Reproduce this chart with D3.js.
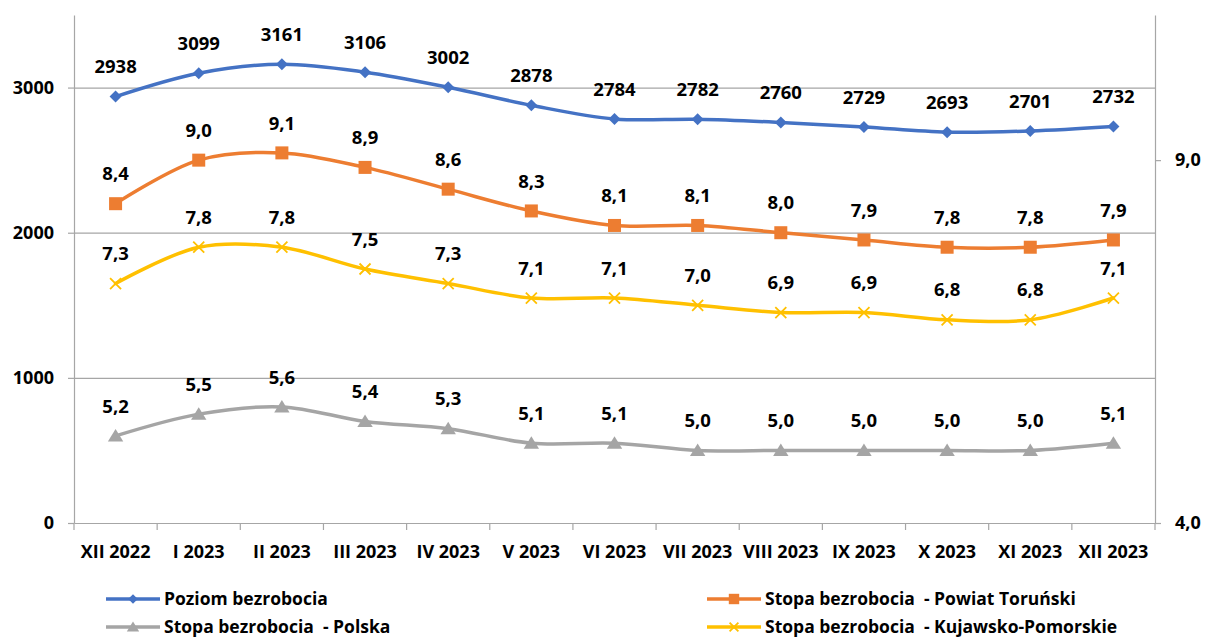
<!DOCTYPE html>
<html>
<head>
<meta charset="utf-8">
<script src="https://cdn.jsdelivr.net/npm/d3@7"></script>
<style>
  html, body { margin: 0; padding: 0; background: #fff; }
  svg { display: block; font-family: "Open Sans", sans-serif; font-weight: bold; }
  text { white-space: pre; }
</style>
</head>
<body>
<svg id="chart" width="1206" height="637"></svg>
<script>
// Months on the category axis
const categories = ["XII 2022", "I 2023", "II 2023", "III 2023", "IV 2023", "V 2023", "VI 2023",
  "VII 2023", "VIII 2023", "IX 2023", "X 2023", "XI 2023", "XII 2023"];

// Number of unemployed (left axis)
const poziomBezrobocia = [2938, 3099, 3161, 3106, 3002, 2878, 2784, 2782, 2760, 2729, 2693, 2701, 2732];

// Unemployment rates, % (right axis)
const stopaTorunski = [8.4, 9.0, 9.1, 8.9, 8.6, 8.3, 8.1, 8.1, 8.0, 7.9, 7.8, 7.8, 7.9];
const stopaKujawskoPomorskie = [7.3, 7.8, 7.8, 7.5, 7.3, 7.1, 7.1, 7.0, 6.9, 6.9, 6.8, 6.8, 7.1];
const stopaPolska = [5.2, 5.5, 5.6, 5.4, 5.3, 5.1, 5.1, 5.0, 5.0, 5.0, 5.0, 5.0, 5.1];

// Axis ticks
const leftTicks = [0, 1000, 2000, 3000];
const rightTicks = [4, 9];

const svg = d3.select("#chart");
const plotLeft = 74, plotRight = 1155, plotTop = 15, plotBottom = 523;

const x = d3.scaleBand().domain(categories).range([plotLeft, plotRight]);
const cx = c => x(c) + x.bandwidth() / 2;
const yL = d3.scaleLinear().domain([0, 3500]).range([plotBottom, plotTop]);
const yR = d3.scaleLinear().domain([4, 11]).range([plotBottom, plotTop]);

const gridColor = "#a6a6a6";
const commaFmt = d => d.toFixed(1).replace(".", ",");

// Horizontal gridlines
const grid = svg.append("g")
  .attr("transform", `translate(${plotLeft},0)`)
  .call(d3.axisLeft(yL).tickValues(leftTicks.filter(t => t > 0)).tickSize(-(plotRight - plotLeft)).tickFormat(""));
grid.select(".domain").remove();
grid.selectAll("line").attr("stroke", gridColor).attr("stroke-width", 1.2);

// Left axis
const axL = svg.append("g")
  .attr("transform", `translate(${plotLeft},0)`)
  .call(d3.axisLeft(yL).tickValues(leftTicks).tickSizeInner(6).tickSizeOuter(0).tickPadding(14).tickFormat(d => String(d)));
// Right axis
const axR = svg.append("g")
  .attr("transform", `translate(${plotRight},0)`)
  .call(d3.axisRight(yR).tickValues(rightTicks).tickSizeInner(6).tickSizeOuter(0).tickPadding(14).tickFormat(commaFmt));
// Bottom axis
const axB = svg.append("g")
  .attr("transform", `translate(0,${plotBottom})`)
  .call(d3.axisBottom(x).tickSize(0).tickPadding(22));
// Tick marks between categories
svg.append("g").selectAll("line")
  .data(categories.map(c => x(c)).concat([x.range()[1]]))
  .join("line")
  .attr("x1", d => d).attr("x2", d => d)
  .attr("y1", plotBottom).attr("y2", plotBottom + 7)
  .attr("stroke", gridColor).attr("stroke-width", 1.2);

[axL, axR, axB].forEach(g => {
  g.selectAll(".domain, line").attr("stroke", gridColor).attr("stroke-width", 1.2);
  g.selectAll("text").attr("fill", "#000").style("font-size", "18px").style("font-family", "Open Sans").style("font-weight", "bold");
});

// Marker shapes
function marker(sel, type, color, s) {
  if (type === "diamond") {
    sel.append("path").attr("d", `M0,${-s}L${s},0L0,${s}L${-s},0Z`).attr("fill", color);
  } else if (type === "square") {
    sel.append("rect").attr("x", -s).attr("y", -s).attr("width", 2 * s).attr("height", 2 * s).attr("fill", color);
  } else if (type === "triangle") {
    sel.append("path").attr("d", `M0,${-s}L${s * 1.1},${s * 0.8}L${-s * 1.1},${s * 0.8}Z`).attr("fill", color);
  } else if (type === "x") {
    sel.append("path").attr("d", `M${-s},${-s}L${s},${s}M${s},${-s}L${-s},${s}`)
      .attr("stroke", color).attr("stroke-width", 1.8).attr("fill", "none");
  }
}

const series = [
  { name: "Poziom bezrobocia", values: poziomBezrobocia, scale: yL, color: "#4472c4", marker: "diamond", size: 6, fmt: d => String(d) },
  { name: "Stopa bezrobocia  - Powiat Toruński", values: stopaTorunski, scale: yR, color: "#ed7d31", marker: "square", size: 6.5, fmt: commaFmt },
  { name: "Stopa bezrobocia  - Polska", values: stopaPolska, scale: yR, color: "#a5a5a5", marker: "triangle", size: 7, fmt: commaFmt },
  { name: "Stopa bezrobocia  - Kujawsko-Pomorskie", values: stopaKujawskoPomorskie, scale: yR, color: "#ffc000", marker: "x", size: 5.5, fmt: commaFmt }
];

const line = d3.line().curve(d3.curveCatmullRom);

series.forEach(s => {
  const pts = s.values.map((v, i) => [cx(categories[i]), s.scale(v)]);
  svg.append("path").attr("d", line(pts))
    .attr("fill", "none").attr("stroke", s.color).attr("stroke-width", 3.5).attr("stroke-linecap", "round");
  pts.forEach(p => {
    marker(svg.append("g").attr("transform", `translate(${p[0]},${p[1]})`), s.marker, s.color, s.size);
  });
});

// Data labels
series.forEach(s => {
  svg.append("g").selectAll("text")
    .data(s.values)
    .join("text")
    .attr("x", (v, i) => cx(categories[i]))
    .attr("y", v => s.scale(v) - 30)
    .attr("dy", "0.36em")
    .attr("text-anchor", "middle")
    .style("font-size", "18.5px")
    .attr("fill", "#000")
    .text(s.fmt);
});

// Legend
const legendItems = [
  { s: series[0], x: 106, y: 599 },
  { s: series[2], x: 106, y: 627 },
  { s: series[1], x: 707, y: 599 },
  { s: series[3], x: 707, y: 627 }
];
legendItems.forEach(it => {
  const g = svg.append("g").attr("transform", `translate(${it.x},${it.y})`);
  g.append("line").attr("x1", 0).attr("x2", 54).attr("y1", 0).attr("y2", 0)
    .attr("stroke", it.s.color).attr("stroke-width", 3.5);
  marker(g.append("g").attr("transform", "translate(27,0)"), it.s.marker, it.s.color, it.s.size * 0.8);
  g.append("text").attr("x", 58).attr("y", 0).attr("dy", "0.36em")
    .style("font-size", "17.5px").attr("fill", "#000").text(it.s.name);
});
</script>
</body>
</html>
